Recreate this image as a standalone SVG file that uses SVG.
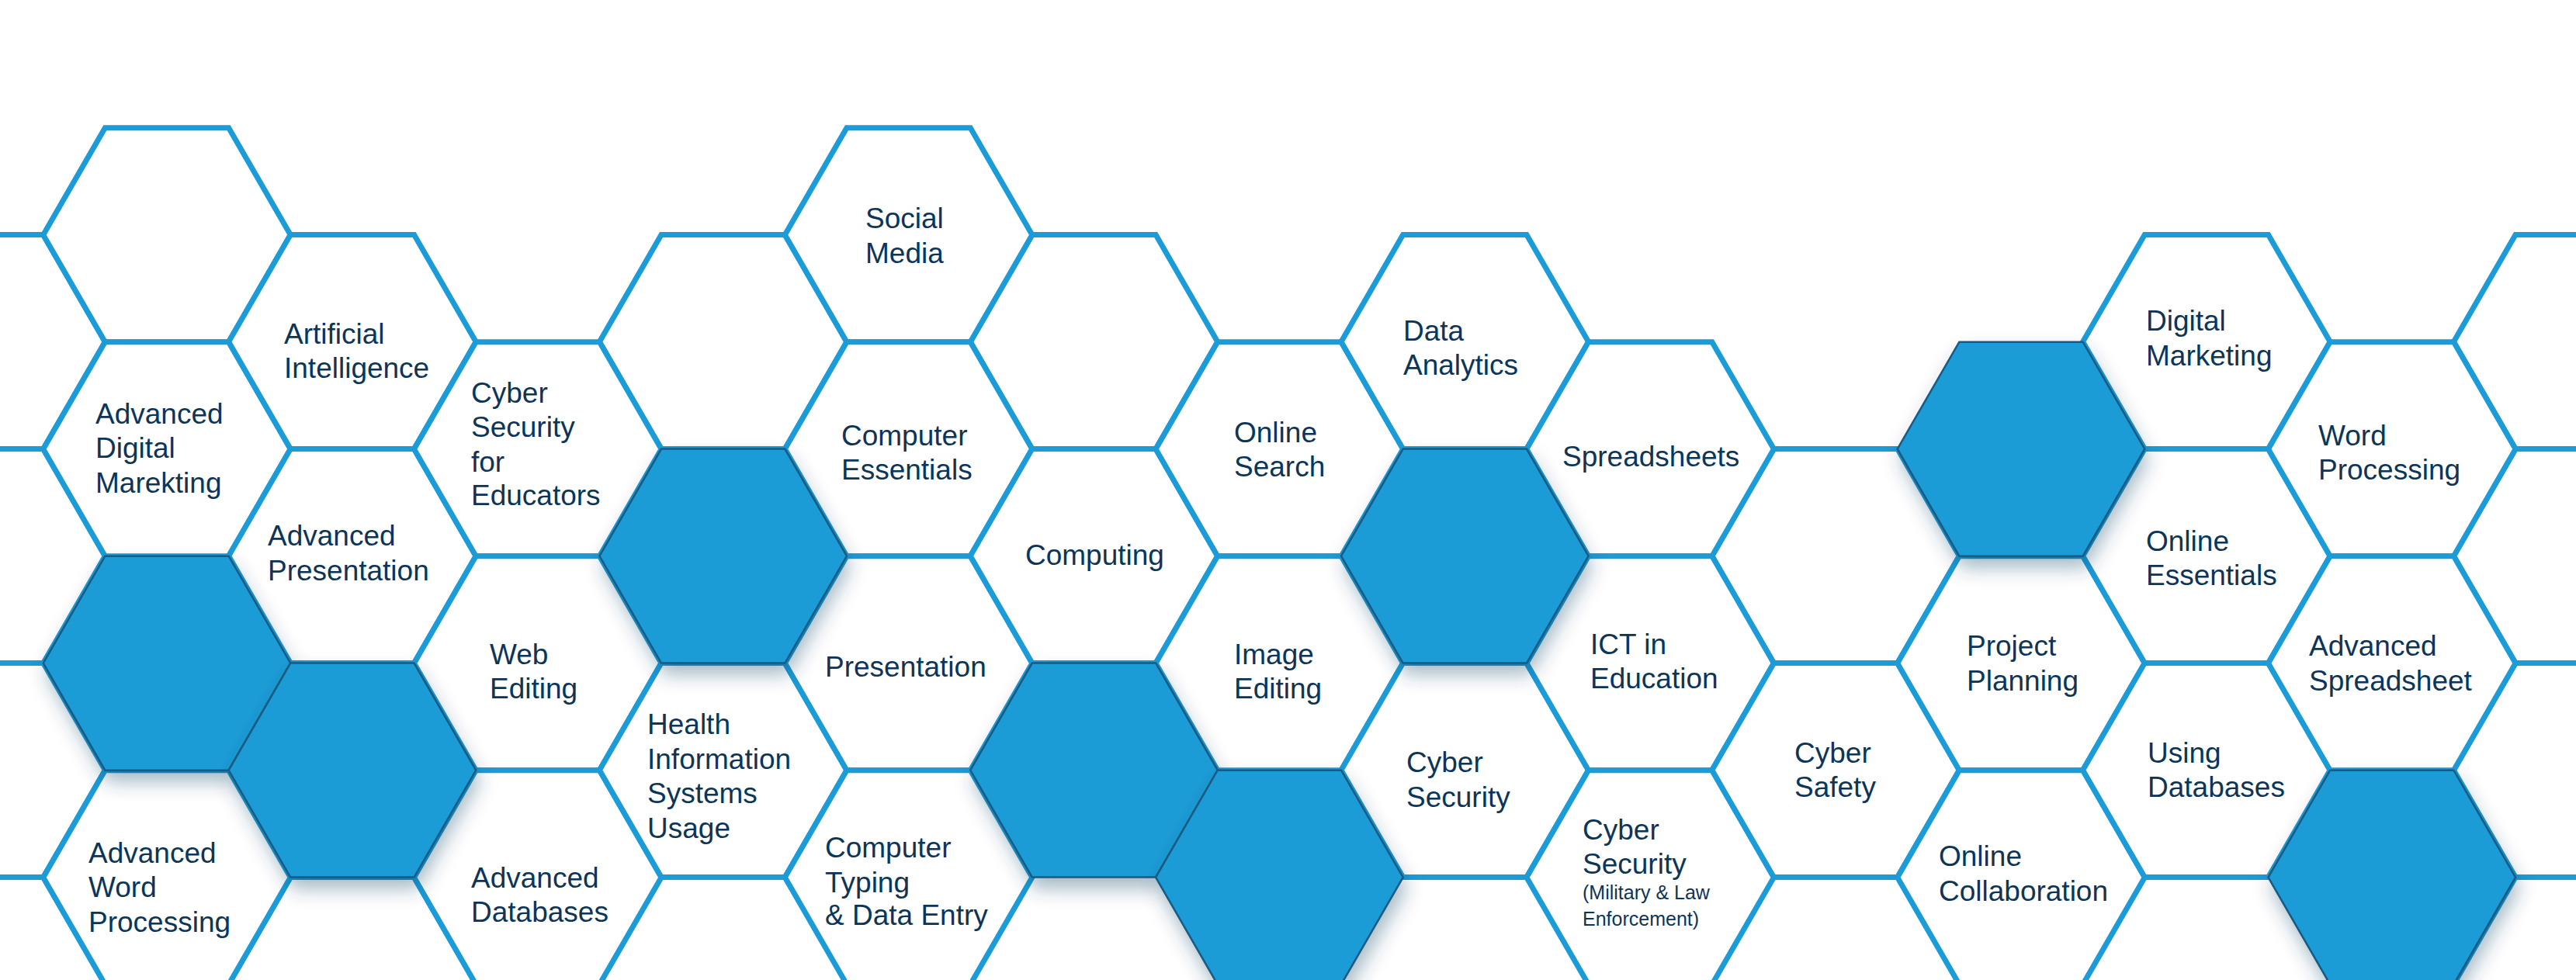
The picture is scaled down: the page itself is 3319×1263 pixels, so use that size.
<svg xmlns="http://www.w3.org/2000/svg" xmlns:xlink="http://www.w3.org/1999/xlink" width="3319" height="1263" viewBox="0 0 3319 1263">
<style>
.h{fill:#fff;stroke:#1b9bd7;stroke-width:7;stroke-linejoin:miter}
.d{fill:#1a9cd6;stroke:#1a5a82;stroke-width:2.5;filter:url(#sh)}
text{font-family:"Liberation Sans",Arial,sans-serif;font-size:37px;fill:#0c3558}
.s{font-size:25px}
</style>
<defs>
<polygon id="hx" points="-159.3,0 -79.65,-138 79.65,-138 159.3,0 79.65,138 -79.65,138"/>
<filter id="sh" x="-30%" y="-30%" width="160%" height="170%"><feDropShadow dx="4" dy="14" stdDeviation="12" flood-color="#0b3a5e" flood-opacity="0.35"/></filter>
</defs>
<rect width="3319" height="1263" fill="#fff"/>
<g id="edge-hexes">
<use href="#hx" class="h" x="-23.9" y="440.6"/><use href="#hx" class="h" x="-23.9" y="716.6"/><use href="#hx" class="h" x="-23.9" y="992.6"/><use href="#hx" class="h" x="-23.9" y="1268.6"/>
<use href="#hx" class="h" x="3320.7" y="440.6"/><use href="#hx" class="h" x="3320.7" y="716.6"/><use href="#hx" class="h" x="3320.7" y="992.6"/><use href="#hx" class="h" x="3320.7" y="1268.6"/>
</g>
<g id="blank-hexes">
<use href="#hx" class="h" x="215" y="302.7"/>
<use href="#hx" class="h" x="453.9" y="1268.6"/>
<use href="#hx" class="h" x="931.7" y="440.6"/>
<use href="#hx" class="h" x="1409.5" y="440.6"/>
<use href="#hx" class="h" x="2365.1" y="716.6"/>
</g>
<g id="n-adm"><use href="#hx" class="h" x="215" y="578.7"/><text x="123"><tspan x="123" y="546">Advanced</tspan><tspan x="123" y="590">Digital</tspan><tspan x="123" y="635">Marekting</tspan></text></g>
<g id="n-awp"><use href="#hx" class="h" x="215" y="1130.7"/><text><tspan x="114" y="1112">Advanced</tspan><tspan x="114" y="1156">Word</tspan><tspan x="114" y="1201">Processing</tspan></text></g>
<g id="n-ai"><use href="#hx" class="h" x="453.9" y="440.6"/><text><tspan x="366" y="443">Artificial</tspan><tspan x="366" y="487">Intelligence</tspan></text></g>
<g id="n-ap"><use href="#hx" class="h" x="453.9" y="716.6"/><text><tspan x="345" y="703">Advanced</tspan><tspan x="345" y="748">Presentation</tspan></text></g>
<g id="n-cse"><use href="#hx" class="h" x="692.8" y="578.7"/><text><tspan x="607" y="519">Cyber</tspan><tspan x="607" y="563">Security</tspan><tspan x="607" y="608">for</tspan><tspan x="607" y="651">Educators</tspan></text></g>
<g id="n-web"><use href="#hx" class="h" x="692.8" y="854.7"/><text><tspan x="631" y="856">Web</tspan><tspan x="631" y="900">Editing</tspan></text></g>
<g id="n-adb"><use href="#hx" class="h" x="692.8" y="1130.7"/><text><tspan x="607" y="1144">Advanced</tspan><tspan x="607" y="1188">Databases</tspan></text></g>
<g id="n-his"><use href="#hx" class="h" x="931.7" y="992.6"/><text><tspan x="834" y="946">Health</tspan><tspan x="834" y="991">Information</tspan><tspan x="834" y="1035">Systems</tspan><tspan x="834" y="1080">Usage</tspan></text></g>
<g id="n-sm"><use href="#hx" class="h" x="1170.6" y="302.7"/><text><tspan x="1115" y="294">Social</tspan><tspan x="1115" y="339">Media</tspan></text></g>
<g id="n-ce"><use href="#hx" class="h" x="1170.6" y="578.7"/><text><tspan x="1084" y="574">Computer</tspan><tspan x="1084" y="618">Essentials</tspan></text></g>
<g id="n-pres"><use href="#hx" class="h" x="1170.6" y="854.7"/><text x="1063" y="872">Presentation</text></g>
<g id="n-ct"><use href="#hx" class="h" x="1170.6" y="1130.7"/><text><tspan x="1063" y="1105">Computer</tspan><tspan x="1063" y="1150">Typing</tspan><tspan x="1063" y="1192">&amp; Data Entry</tspan></text></g>
<g id="n-comp"><use href="#hx" class="h" x="1409.5" y="716.6"/><text x="1321" y="728">Computing</text></g>
<g id="n-os"><use href="#hx" class="h" x="1648.4" y="578.7"/><text><tspan x="1590" y="570">Online</tspan><tspan x="1590" y="614">Search</tspan></text></g>
<g id="n-ie"><use href="#hx" class="h" x="1648.4" y="854.7"/><text><tspan x="1590" y="856">Image</tspan><tspan x="1590" y="900">Editing</tspan></text></g>
<g id="n-da"><use href="#hx" class="h" x="1887.3" y="440.6"/><text><tspan x="1808" y="439">Data</tspan><tspan x="1808" y="483">Analytics</tspan></text></g>
<g id="n-cs"><use href="#hx" class="h" x="1887.3" y="992.6"/><text><tspan x="1812" y="995">Cyber</tspan><tspan x="1812" y="1040">Security</tspan></text></g>
<g id="n-ss"><use href="#hx" class="h" x="2126.2" y="578.7"/><text x="2013" y="601">Spreadsheets</text></g>
<g id="n-ict"><use href="#hx" class="h" x="2126.2" y="854.7"/><text><tspan x="2049" y="843">ICT in</tspan><tspan x="2049" y="887">Education</tspan></text></g>
<g id="n-csm"><use href="#hx" class="h" x="2126.2" y="1130.7"/><text><tspan x="2039" y="1082">Cyber</tspan><tspan x="2039" y="1126">Security</tspan></text><text class="s"><tspan x="2039" y="1159">(Military &amp; Law</tspan><tspan x="2039" y="1193">Enforcement)</tspan></text></g>
<g id="n-csf"><use href="#hx" class="h" x="2365.1" y="992.6"/><text><tspan x="2312" y="983">Cyber</tspan><tspan x="2312" y="1027">Safety</tspan></text></g>
<g id="n-pp"><use href="#hx" class="h" x="2604" y="854.7"/><text><tspan x="2534" y="845">Project</tspan><tspan x="2534" y="890">Planning</tspan></text></g>
<g id="n-oc"><use href="#hx" class="h" x="2604" y="1130.7"/><text><tspan x="2498" y="1116">Online</tspan><tspan x="2498" y="1161">Collaboration</tspan></text></g>
<g id="n-dm"><use href="#hx" class="h" x="2842.9" y="440.6"/><text><tspan x="2765" y="426">Digital</tspan><tspan x="2765" y="471">Marketing</tspan></text></g>
<g id="n-oe"><use href="#hx" class="h" x="2842.9" y="716.6"/><text><tspan x="2765" y="710">Online</tspan><tspan x="2765" y="754">Essentials</tspan></text></g>
<g id="n-ud"><use href="#hx" class="h" x="2842.9" y="992.6"/><text><tspan x="2767" y="983">Using</tspan><tspan x="2767" y="1027">Databases</tspan></text></g>
<g id="n-wp"><use href="#hx" class="h" x="3081.8" y="578.7"/><text><tspan x="2987" y="574">Word</tspan><tspan x="2987" y="618">Processing</tspan></text></g>
<g id="n-as"><use href="#hx" class="h" x="3081.8" y="854.7"/><text><tspan x="2975" y="845">Advanced</tspan><tspan x="2975" y="890">Spreadsheet</tspan></text></g>
<g id="dark-hexes">
<use href="#hx" class="d" x="215" y="854.7"/>
<use href="#hx" class="d" x="453.9" y="992.6"/>
<use href="#hx" class="d" x="931.7" y="716.6"/>
<use href="#hx" class="d" x="1409.5" y="992.6"/>
<use href="#hx" class="d" x="1648.4" y="1130.7"/>
<use href="#hx" class="d" x="1887.3" y="716.6"/>
<use href="#hx" class="d" x="2604" y="578.7"/>
<use href="#hx" class="d" x="3081.8" y="1130.7"/>
</g>
<g id="connectors"/>
</svg>
